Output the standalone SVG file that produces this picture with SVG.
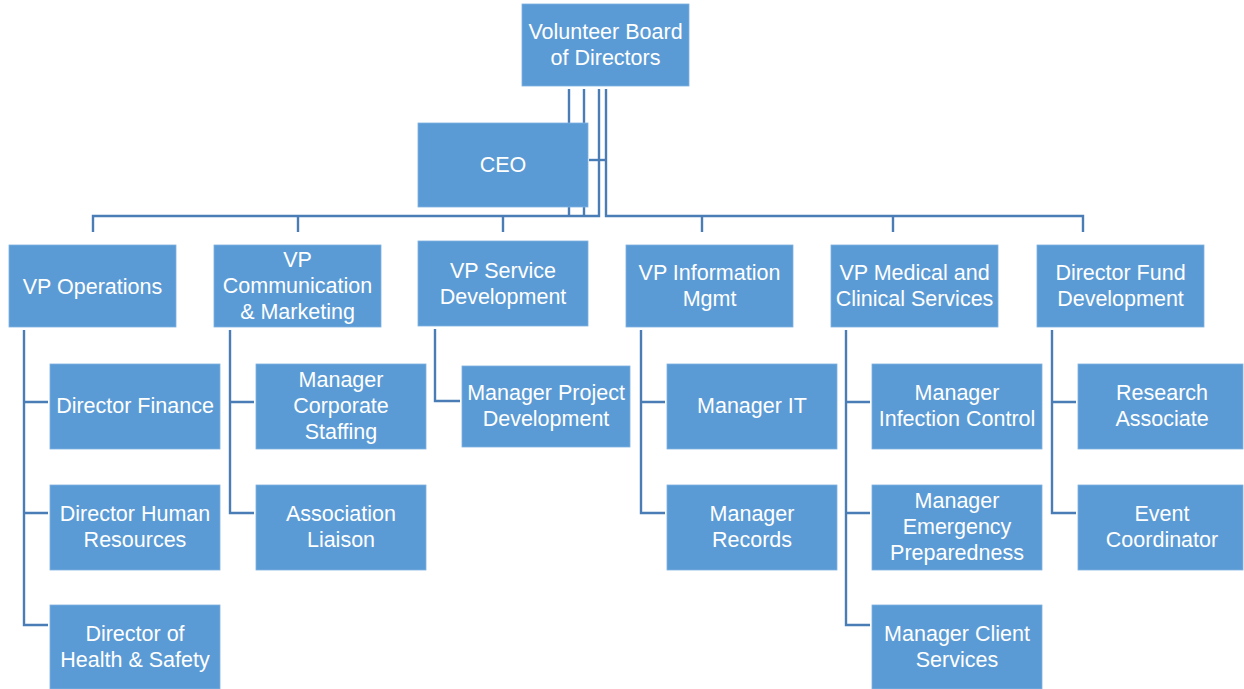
<svg xmlns="http://www.w3.org/2000/svg" width="1244" height="689" viewBox="0 0 1244 689">
<style>
.b{fill:#5b9bd5;stroke:#7eb1e0;stroke-width:0.8}
.t{font-family:"Liberation Sans",Arial,sans-serif;font-size:21.5px;fill:#fff;text-anchor:middle}
#connectors path{fill:none;stroke:#4a7db5;stroke-width:2.4}
</style>
<rect width="1244" height="689" fill="#fff"/>
<g id="connectors">
<path d="M569,89V216M584,89V216"/>
<path d="M599,89V216H93V232M298,216V232M503,216V232"/>
<path d="M606,89V216H1083V232M702,216V232M893,216V232"/>
<path d="M589,160H606"/>
<path d="M24,330V625H48M24,402H48M24,513H48"/>
<path d="M230,330V513H254M230,402H254"/>
<path d="M435,329V401H460"/>
<path d="M641,330V513H665M641,402H665"/>
<path d="M846,330V625H870M846,402H870M846,513H870"/>
<path d="M1052,330V513H1076M1052,402H1076"/>
</g>
<g id="board"><rect class="b" x="522" y="4" width="167" height="82"/><text class="t" x="605.5" y="39">Volunteer Board</text><text class="t" x="605.5" y="65">of Directors</text></g>
<g id="ceo"><rect class="b" x="418" y="123" width="170" height="84"/><text class="t" x="503" y="172">CEO</text></g>
<g id="vp-ops"><rect class="b" x="9" y="245" width="167" height="82"/><text class="t" x="92.5" y="294">VP Operations</text></g>
<g id="vp-comm"><rect class="b" x="214" y="245" width="167" height="82"/><text class="t" x="297.5" y="267">VP</text><text class="t" x="297.5" y="293">Communication</text><text class="t" x="297.5" y="319">&amp; Marketing</text></g>
<g id="vp-service"><rect class="b" x="418" y="241" width="170" height="85"/><text class="t" x="503" y="278">VP Service</text><text class="t" x="503" y="304">Development</text></g>
<g id="vp-info"><rect class="b" x="626" y="245" width="167" height="82"/><text class="t" x="709.5" y="280">VP Information</text><text class="t" x="709.5" y="306">Mgmt</text></g>
<g id="vp-medical"><rect class="b" x="831" y="245" width="167" height="82"/><text class="t" x="914.5" y="280">VP Medical and</text><text class="t" x="914.5" y="306">Clinical Services</text></g>
<g id="dir-fund"><rect class="b" x="1037" y="245" width="167" height="82"/><text class="t" x="1120.5" y="280">Director Fund</text><text class="t" x="1120.5" y="306">Development</text></g>
<g id="dir-finance"><rect class="b" x="50" y="364" width="170" height="85"/><text class="t" x="135" y="413">Director Finance</text></g>
<g id="dir-hr"><rect class="b" x="50" y="485" width="170" height="85"/><text class="t" x="135" y="521">Director Human</text><text class="t" x="135" y="547">Resources</text></g>
<g id="dir-hs"><rect class="b" x="50" y="605" width="170" height="84"/><text class="t" x="135" y="641">Director of</text><text class="t" x="135" y="667">Health &amp; Safety</text></g>
<g id="mgr-staffing"><rect class="b" x="256" y="364" width="170" height="85"/><text class="t" x="341" y="387">Manager</text><text class="t" x="341" y="413">Corporate</text><text class="t" x="341" y="439">Staffing</text></g>
<g id="assoc-liaison"><rect class="b" x="256" y="485" width="170" height="85"/><text class="t" x="341" y="521">Association</text><text class="t" x="341" y="547">Liaison</text></g>
<g id="mgr-project"><rect class="b" x="462" y="366" width="168" height="81"/><text class="t" x="546" y="400">Manager Project</text><text class="t" x="546" y="426">Development</text></g>
<g id="mgr-it"><rect class="b" x="667" y="364" width="170" height="85"/><text class="t" x="752" y="413">Manager IT</text></g>
<g id="mgr-records"><rect class="b" x="667" y="485" width="170" height="85"/><text class="t" x="752" y="521">Manager</text><text class="t" x="752" y="547">Records</text></g>
<g id="mgr-infection"><rect class="b" x="872" y="364" width="170" height="85"/><text class="t" x="957" y="400">Manager</text><text class="t" x="957" y="426">Infection Control</text></g>
<g id="mgr-emergency"><rect class="b" x="872" y="485" width="170" height="85"/><text class="t" x="957" y="508">Manager</text><text class="t" x="957" y="534">Emergency</text><text class="t" x="957" y="560">Preparedness</text></g>
<g id="mgr-client"><rect class="b" x="872" y="605" width="170" height="84"/><text class="t" x="957" y="641">Manager Client</text><text class="t" x="957" y="667">Services</text></g>
<g id="research"><rect class="b" x="1078" y="364" width="165" height="85"/><text class="t" x="1162" y="400">Research</text><text class="t" x="1162" y="426">Associate</text></g>
<g id="event"><rect class="b" x="1078" y="485" width="165" height="85"/><text class="t" x="1162" y="521">Event</text><text class="t" x="1162" y="547">Coordinator</text></g>
</svg>
